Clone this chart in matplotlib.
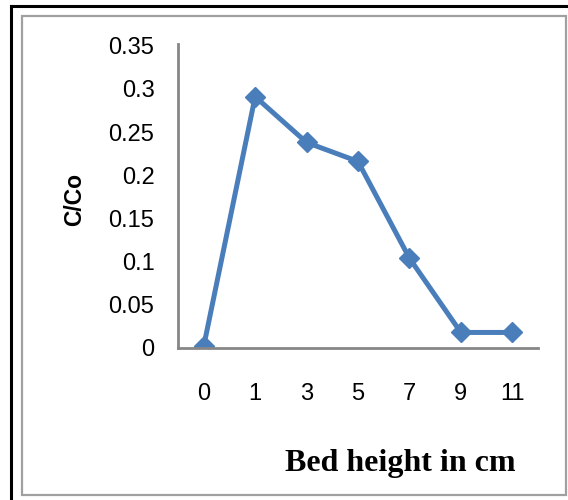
import numpy as np
import matplotlib.pyplot as plt
from matplotlib.patches import Rectangle
from matplotlib.lines import Line2D

# bed height categories and C/Co values
bed_height = ['0', '1', '3', '5', '7', '9', '11']
c_co = [0.002, 0.291, 0.238, 0.216, 0.104, 0.018, 0.018]
y_ticks = [0, 0.05, 0.1, 0.15, 0.2, 0.25, 0.3, 0.35]
y_labels = ['0', '0.05', '0.1', '0.15', '0.2', '0.25', '0.3', '0.35']

W, H = 568, 500
fig = plt.figure(figsize=(W / 100, H / 100), dpi=100)

# borders around the picture
fig.add_artist(Line2D([10.5 / W, 10.5 / W], [0, 1 - 5.5 / H], color='black', lw=2.2))
fig.add_artist(Line2D([10.5 / W, 1], [1 - 5.5 / H, 1 - 5.5 / H], color='black', lw=2.2))
fig.add_artist(Rectangle((22 / W, 1 - 495 / H), (566 - 22) / W, (495 - 16) / H,
                         fill=False, edgecolor='#a0a0a0', lw=1.6))

ax = fig.add_axes([178 / W, 1 - 348 / H, (538 - 178) / W, (348 - 44) / H])
x = np.arange(len(bed_height))
ax.plot(x, c_co, color='#4a7ebb', lw=3.6, marker='D', markersize=10.5,
        markerfacecolor='#4a7ebb', markeredgecolor='#4a7ebb')

ax.set_xlim(-0.5, len(bed_height) - 0.5)
ax.set_ylim(0, 0.352)
ax.set_xticks(x)
ax.set_xticklabels(bed_height)
ax.set_yticks(y_ticks)
ax.set_yticklabels(y_labels)
ax.tick_params(axis='both', length=0, labelsize=17, labelcolor='black')
ax.tick_params(axis='y', pad=17)
ax.tick_params(axis='x', pad=25)
for lab in ax.get_xticklabels() + ax.get_yticklabels():
    lab.set_fontfamily('Liberation Sans')

for s in ['top', 'right']:
    ax.spines[s].set_visible(False)
for s in ['left', 'bottom']:
    ax.spines[s].set_color('#868686')
    ax.spines[s].set_linewidth(2)
ax.set_facecolor('none')

fig.text(75 / W, 1 - 199 / H, 'C/Co', rotation=90, ha='center', va='center',
         fontsize=16.5, fontweight='bold', fontfamily='Liberation Sans')
fig.text(400 / W, 1 - 463 / H, 'Bed height in cm', ha='center', va='center',
         fontsize=23, fontweight='bold', fontfamily='Liberation Serif')

plt.savefig('out.png', dpi=100)
